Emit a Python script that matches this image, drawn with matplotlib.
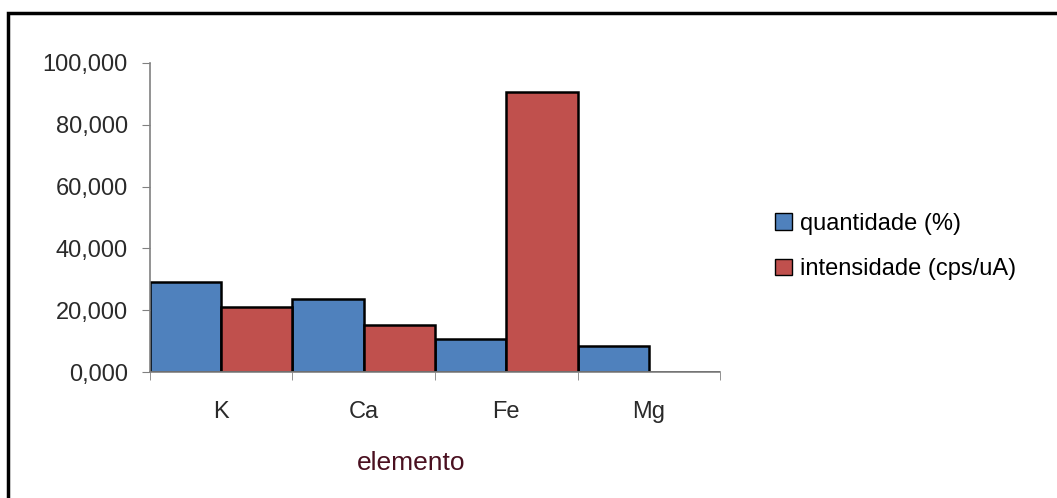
import numpy as np
import matplotlib
matplotlib.use('Agg')
import matplotlib.pyplot as plt
from matplotlib.patches import Rectangle
from matplotlib.ticker import FuncFormatter

# data
elementos = ['K', 'Ca', 'Fe', 'Mg']
quantidade = [29.2, 23.6, 10.8, 8.3]
intensidade = [20.9, 15.2, 90.5, 0.0]
y_ticks = [0, 20, 40, 60, 80, 100]

plt.rcParams['font.family'] = ['Liberation Sans', 'DejaVu Sans']

fig = plt.figure(figsize=(10.57, 4.98), dpi=100)
ax = fig.add_axes([0.1419, 0.253, 0.5393, 0.6205])

x = np.arange(len(elementos))
w = 0.5
ax.bar(x - w / 2, quantidade, w, color='#4F81BD', edgecolor='black', linewidth=1.8,
       label='quantidade (%)')
ax.bar(x + w / 2, intensidade, w, color='#C0504D', edgecolor='black', linewidth=1.8,
       label='intensidade (cps/uA)')

ax.set_xlim(-0.5, len(elementos) - 0.5)
ax.set_ylim(0, 100)
ax.set_yticks(y_ticks)
ax.yaxis.set_major_formatter(FuncFormatter(lambda v, p: f'{v:.3f}'.replace('.', ',')))
ax.set_xticks(x)
ax.set_xticklabels(elementos)
ax.set_xticks(np.arange(-0.5, len(elementos)), minor=True)
ax.tick_params(axis='x', which='major', length=0, pad=21, labelsize=17, labelcolor='#2a2a2a')
ax.tick_params(axis='x', which='minor', length=6, color='#808080', direction='out')
ax.tick_params(axis='y', length=6, color='#808080', labelsize=17, labelcolor='#2a2a2a', pad=10)

for s in ['top', 'right']:
    ax.spines[s].set_visible(False)
for s in ['left', 'bottom']:
    ax.spines[s].set_color('#808080')
    ax.spines[s].set_linewidth(1.2)

fig.text(411 / 1057, 1 - 463 / 498, 'elemento', fontsize=19, color='#4a1020',
         ha='center', va='center')

leg = fig.legend(loc='center left', bbox_to_anchor=(0.733, 0.505), frameon=False, fontsize=17,
                 handlelength=0.72, handleheight=0.72, handletextpad=0.34, labelspacing=1.0,
                 borderpad=0, borderaxespad=0)
for h in leg.legend_handles:
    h.set_linewidth(1.0)

# outer border of the original chart area
fig.patches.append(Rectangle((8 / 1057, -0.05), 1.1, 1.05 - 13 / 498,
                             transform=fig.transFigure, fill=False,
                             edgecolor='black', linewidth=2.5))

fig.savefig('out.png', dpi=100)
